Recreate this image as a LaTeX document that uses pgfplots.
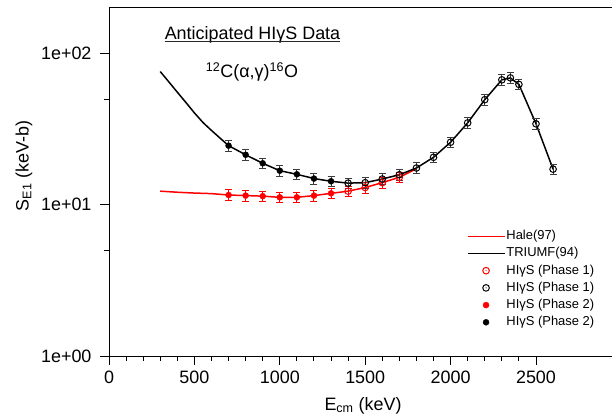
\documentclass[border=0pt]{standalone}
\usepackage{fontspec}
\setmainfont{Liberation Sans}
\usepackage{pgfplots}
\pgfplotsset{compat=1.18}
\pgfdeclareplotmark{odot}{%
  \pgfpathcircle{\pgfpointorigin}{\pgfplotmarksize}\pgfusepathqstroke
  \pgfpathcircle{\pgfpointorigin}{0.6pt}\pgfusepathqfill}
\definecolor{ebgray}{RGB}{60,60,60}
\begin{document}
\begin{tikzpicture}
\begin{axis}[
  scale only axis, width=503bp, height=348bp,
  xmin=0, xmax=2945, ymode=log, ymin=1, ymax=200,
  axis x line*=box, axis y line*=left,
  x axis line style={-}, y axis line style={-},
  axis line style={line width=1pt},
  tick pos=left, tick align=outside,
  xtick={0,500,1000,1500,2000,2500},
  xticklabels={0,500,1000,1500,2000,2500},
  minor x tick num=4,
  ytick={1,10,100}, yticklabels={1e+00,1e+01,1e+02},
  minor ytick={5,50},
  major tick length=9bp, minor tick length=5bp,
  every tick/.style={black, line width=1pt},
  ticklabel style={font=\fontsize{18}{21}\selectfont, /pgf/number format/assume math mode=true},
  yticklabel style={xshift=-5bp},
  xticklabel style={yshift=-3bp},
  label style={font=\fontsize{18}{21}\selectfont},
  xlabel={E\textsubscript{cm} (keV)},
  ylabel={S\textsubscript{E1} (keV-b)},
  xlabel style={at={(axis description cs:0.505,-0.143)}, anchor=center},
  ylabel style={at={(axis description cs:-0.169,0.546)}, anchor=center},
  legend style={draw=none, fill=none, font=\fontsize{13}{15}\selectfont,
    at={(axis description cs:0.705,0.375)}, anchor=north west,
    nodes={inner sep=1.1bp, text height=11bp, text depth=4bp},
    row sep=0pt},
  legend cell align=left,
  legend image code/.code={\draw[mark repeat=2,mark phase=2,#1] plot coordinates {(0bp,0bp) (18.5bp,0bp) (37bp,0bp)};},
  error bars/y dir=both, error bars/y explicit relative,
]
% Hale(97)
\addplot[red, line width=1.5pt, no marks] coordinates {
(300,12.3) (400,12.1) (500,11.95) (600,11.85) (700,11.6) (800,11.5) (900,11.4) (1000,11.2) (1100,11.2) (1200,11.5) (1300,11.9) (1400,12.3) (1500,13.0) (1600,14.0) (1700,15.2) (1800,17.3)};
\addlegendentry{Hale(97)}
% TRIUMF(94)
\addplot[black, line width=1.5pt, no marks] coordinates {
(300,76) (350,65) (400,55.5) (450,47.5) (500,40.5) (550,35) (600,31) (650,27.6) (700,24.6) (800,21.4) (900,18.8) (1000,16.8) (1100,15.9) (1200,14.9) (1300,14.3) (1400,13.9) (1500,14.0) (1600,14.8) (1700,15.8) (1800,17.5) (1900,20.6) (2000,25.9) (2100,34.8) (2200,49.5) (2300,67) (2350,69) (2400,62.5) (2500,34.3) (2600,17.2)};
\addlegendentry{TRIUMF(94)}
% Phase 1 red
\addplot[only marks, mark=odot, mark size=3.3bp, line width=1pt, mark options={draw=red, fill=red},
  error bars/error bar style={red, line width=1pt},
  error bars/error mark options={rotate=90, mark size=3.5bp, red, line width=1pt}] coordinates {
(1400,12.3) +- (0,0.08) (1500,13.0) +- (0,0.08) (1600,14.0) +- (0,0.08) (1700,15.2) +- (0,0.08)};
\addlegendentry{HIγS (Phase 1)}
% Phase 1 black
\addplot[only marks, mark=odot, mark size=3.3bp, line width=1pt, mark options={draw=black, fill=black},
  error bars/error bar style={ebgray, line width=1pt},
  error bars/error mark options={rotate=90, mark size=3.5bp, ebgray, line width=1pt}] coordinates {
(1400,13.9) +- (0,0.08) (1500,14.0) +- (0,0.08) (1600,14.8) +- (0,0.08) (1700,15.8) +- (0,0.08) (1800,17.5) +- (0,0.08) (1900,20.6) +- (0,0.08) (2000,25.9) +- (0,0.08) (2100,34.8) +- (0,0.08) (2200,49.5) +- (0,0.08) (2300,67) +- (0,0.08) (2350,69) +- (0,0.08) (2400,62.5) +- (0,0.08) (2500,34.3) +- (0,0.08) (2600,17.2) +- (0,0.08)};
\addlegendentry{HIγS (Phase 1)}
% Phase 2 red
\addplot[only marks, mark=*, mark size=3bp, mark options={draw=red, fill=red},
  error bars/error bar style={red, line width=1pt},
  error bars/error mark options={rotate=90, mark size=3.5bp, red, line width=1pt}] coordinates {
(700,11.6) +- (0,0.08) (800,11.5) +- (0,0.08) (900,11.4) +- (0,0.08) (1000,11.2) +- (0,0.08) (1100,11.2) +- (0,0.08) (1200,11.5) +- (0,0.08) (1300,11.9) +- (0,0.08)};
\addlegendentry{HIγS (Phase 2)}
% Phase 2 black
\addplot[only marks, mark=*, mark size=3bp, mark options={draw=black, fill=black},
  error bars/error bar style={ebgray, line width=1pt},
  error bars/error mark options={rotate=90, mark size=3.5bp, ebgray, line width=1pt}] coordinates {
(700,24.6) +- (0,0.08) (800,21.4) +- (0,0.08) (900,18.8) +- (0,0.08) (1000,16.8) +- (0,0.08) (1100,15.9) +- (0,0.08) (1200,14.9) +- (0,0.08) (1300,14.3) +- (0,0.08)};
\addlegendentry{HIγS (Phase 2)}
\end{axis}
\node[anchor=base, font=\fontsize{18}{21}\selectfont, inner sep=0pt] (t) at (143.5bp,316.7bp) {Anticipated HIγS Data};
\draw[line width=0.9pt, black!85] ([yshift=-2.4bp]t.base west) -- ([yshift=-2.4bp]t.base east);
\node[anchor=base, font=\fontsize{18}{21}\selectfont, inner sep=0pt] at (143bp,278.7bp) {\textsuperscript{12}C(α,γ)\textsuperscript{16}O};
\pgfresetboundingbox
\path (-109bp,-61bp) rectangle (503bp,356bp);
\end{tikzpicture}
\end{document}
